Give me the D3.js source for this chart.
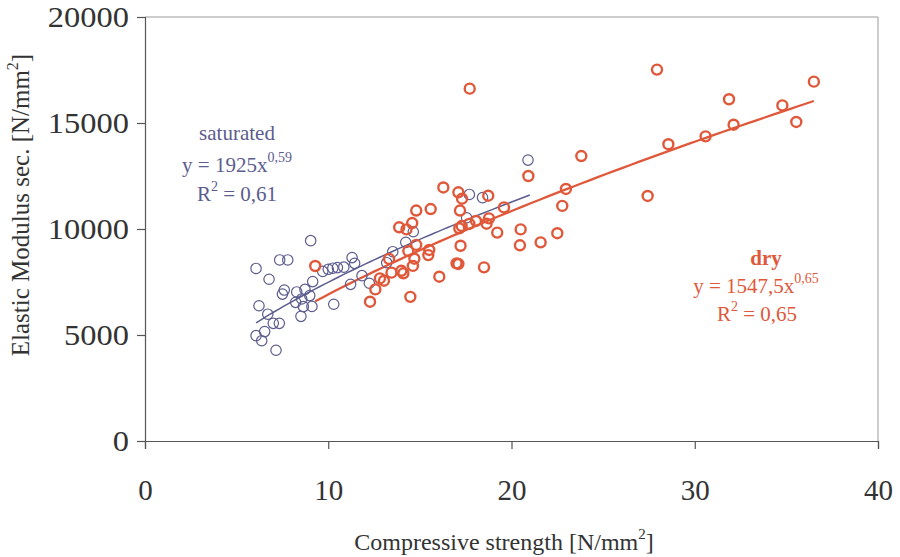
<!DOCTYPE html>
<html><head><meta charset="utf-8">
<script src="https://cdn.jsdelivr.net/npm/d3@7"></script>
<style>
body{margin:0;background:#fff;}
text{font-family:"Liberation Serif","DejaVu Serif",serif;}
</style></head>
<body><svg id="c" width="900" height="557"></svg>
<script>
// Data
const satX = [6.06,6.77,7.35,7.79,7.5,7.6,6.22,6.7,6.06,6.53,6.37,7.0,7.33,7.15,8.28,8.73,9.15,8.22,8.55,8.99,8.64,9.11,8.51,9.04,9.7,10.0,10.25,10.5,10.85,11.3,11.44,10.3,11.22,11.84,12.24,12.28,13.19,13.52,14.23,14.64,17.55,17.7,18.42,20.9];
const satY = [8140,7630,8540,8540,6930,7120,6380,5980,4970,5160,4730,5550,5550,4280,7030,7150,7520,6540,6700,6860,6340,6350,5880,9450,8000,8100,8150,8180,8200,8650,8380,6450,7390,7800,7440,6570,8410,8930,9370,9870,10530,11630,11480,13250];
const dryX = [9.29,12.28,12.57,12.82,13.04,13.45,13.99,14.1,14.48,13.32,14.62,14.7,14.37,14.8,13.87,14.27,14.58,14.8,15.51,15.46,15.59,16.06,16.28,17.0,17.1,17.22,17.15,17.28,17.1,17.3,17.19,17.7,18.06,18.5,18.64,18.77,18.73,17.72,19.22,19.59,20.46,20.5,20.92,21.59,22.5,22.77,22.97,23.81,27.43,27.94,28.56,30.59,31.87,32.12,34.78,35.54,36.5];
const dryY = [8255,6570,7150,7670,7560,7940,8030,7910,6800,8590,8260,8600,8960,9250,10080,9980,10280,10870,9010,8770,10940,7750,11960,8380,8350,9210,10030,10140,11730,11430,10870,10240,10380,8190,10250,10500,11570,16620,9830,11020,9230,9980,12500,9370,9800,11090,11890,13440,11560,17520,14000,14370,16120,14920,15830,15050,16950];
// Trend lines (power fits shown on the chart): [coef, exponent, xStart, xEnd]
const satFit = [1925, 0.59, 6.06, 21.0];
const dryFit = [1547.5, 0.65, 9.29, 36.5];
const xTicks = [0,10,20,30,40];
const yTicks = [0,5000,10000,15000,20000];

const svg = d3.select("#c");
const L=145,R=878,T=17,B=441;
const x = d3.scaleLinear().domain([0,40]).range([L,R]);
const y = d3.scaleLinear().domain([0,20000]).range([B,T]);
const blue="#5c5c8e", red="#e0583a";

// frame
svg.append("path").attr("d",`M${L},${T}H${R}V${B}`).attr("fill","none").attr("stroke","#999").attr("stroke-width",1);

const xa = svg.append("g").attr("transform",`translate(0,${B})`)
  .call(d3.axisBottom(x).tickValues(xTicks).tickFormat(d3.format("d")).tickSize(8).tickPadding(30));
const ya = svg.append("g").attr("transform",`translate(${L},0)`)
  .call(d3.axisLeft(y).tickValues(yTicks).tickFormat(d3.format("d")).tickSize(8).tickPadding(11));
[xa,ya].forEach(g=>{
  g.select(".domain").attr("stroke","#555").attr("stroke-width",1.2);
  g.selectAll(".tick line").attr("stroke","#555").attr("stroke-width",1.2);
  g.selectAll("text").attr("font-family","Liberation Serif").attr("font-size",29).attr("fill","#333");
});
ya.selectAll("text").attr("transform","scale(1.12,1)").attr("x",-16/1.12);

function fitPts(f){
  const n=60, pts=[];
  for(let i=0;i<=n;i++){const xv=f[2]+(f[3]-f[2])*i/n; pts.push([xv,f[0]*Math.pow(xv,f[1])]);}
  return pts;
}
const line=d3.line().x(d=>x(d[0])).y(d=>y(d[1]));

svg.append("path").attr("d",line(fitPts(satFit))).attr("fill","none").attr("stroke",blue).attr("stroke-width",1.5);
svg.append("path").attr("d",line(fitPts(dryFit))).attr("fill","none").attr("stroke",red).attr("stroke-width",2.3);

svg.append("g").selectAll("circle").data(satX.map((v,i)=>[v,satY[i]])).join("circle")
  .attr("cx",d=>x(d[0])).attr("cy",d=>y(d[1])).attr("r",5.2)
  .attr("fill","none").attr("stroke",blue).attr("stroke-width",1.2);
svg.append("g").selectAll("circle").data(dryX.map((v,i)=>[v,dryY[i]])).join("circle")
  .attr("cx",d=>x(d[0])).attr("cy",d=>y(d[1])).attr("r",5)
  .attr("fill","none").attr("stroke",red).attr("stroke-width",2.4);

// axis titles
const xt = svg.append("text").attr("x",504).attr("y",550).attr("text-anchor","middle").attr("font-size",24).attr("fill","#333");
xt.append("tspan").text("Compressive strength [N/mm");
xt.append("tspan").attr("font-size",15).attr("dy",-11).text("2");
xt.append("tspan").attr("dy",11).text("]");
const yt = svg.append("text").attr("transform","translate(29,205) rotate(-90)").attr("text-anchor","middle").attr("font-size",25).attr("fill","#333");
yt.append("tspan").text("Elastic Modulus sec. [N/mm");
yt.append("tspan").attr("font-size",16).attr("dy",-11).text("2");
yt.append("tspan").attr("dy",11).text("]");

// annotations
function eq(g,cx,cy,col,coef,exp){
  const t=g.append("text").attr("x",cx).attr("y",cy).attr("text-anchor","middle").attr("font-size",21).attr("fill",col);
  t.append("tspan").text("y = "+coef+"x");
  t.append("tspan").attr("font-size",14).attr("dy",-10).text(exp);
}
function r2(g,cx,cy,col,val){
  const t=g.append("text").attr("x",cx).attr("y",cy).attr("text-anchor","middle").attr("font-size",21).attr("fill",col);
  t.append("tspan").text("R");
  t.append("tspan").attr("font-size",14).attr("dy",-10).text("2");
  t.append("tspan").attr("dy",10).text(" = "+val);
}
svg.append("text").attr("x",237).attr("y",140).attr("text-anchor","middle").attr("font-size",21).attr("fill",blue).text("saturated");
eq(svg,237,172,blue,"1925","0,59");
r2(svg,237,201,blue,"0,61");
svg.append("text").attr("x",766).attr("y",265).attr("text-anchor","middle").attr("font-size",21).attr("font-weight","bold").attr("fill",red).text("dry");
eq(svg,756,293,red,"1547,5","0,65");
r2(svg,757,321,red,"0,65");
</script></body></html>
